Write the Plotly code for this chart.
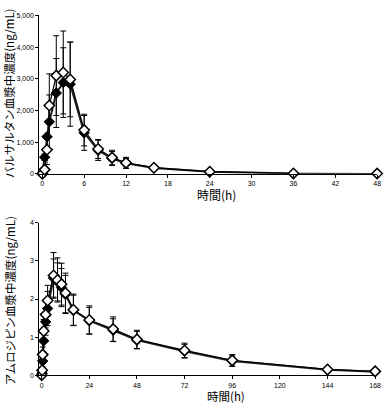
import plotly.graph_objects as go

# ---- Valsartan (top) ----
val_time_open = [0, 0.33, 0.67, 1, 2, 3, 4, 6, 8, 10, 12, 16, 24, 36, 48]
val_mean_open = [0, 130, 757, 2155, 3100, 3200, 2980, 1380, 780, 510, 345, 190, 65, 10, 5]
val_sd_open = [0, 60, 470, 1000, 1260, 1310, 1180, 500, 300, 230, 170, 60, 20, 5, 3]

val_time_filled = [0, 0.33, 0.67, 1, 2, 3, 4, 6, 8, 10, 12, 16, 24, 36]
val_mean_filled = [0, 520, 1170, 1640, 2550, 2880, 2830, 1290, 740, 480, 330, 180, 60, 10]
val_sd_filled = [0, 100, 60, 850, 1090, 1100, 1330, 550, 320, 220, 160, 50, 20, 5]

val_xticks = [0, 6, 12, 18, 24, 30, 36, 42, 48]
val_yticks = [0, 1000, 2000, 3000, 4000, 5000]

# ---- Amlodipine (bottom) ----
aml_time = [0, 0.25, 0.5, 1, 2, 3, 6, 8, 10, 12, 16, 24, 36, 48, 72, 96, 144, 168]
aml_mean_open = [0, 0.13, 0.54, 1.16, 1.59, 1.96, 2.62, 2.50, 2.39, 2.16, 1.72, 1.45, 1.21, 0.94, 0.65, 0.39, 0.15, 0.10]
aml_sd_open = [0, 0.05, 0.2, 0.3, 0.35, 0.4, 0.6, 0.58, 0.55, 0.52, 0.41, 0.37, 0.32, 0.24, 0.19, 0.15, 0.05, 0.03]
aml_mean_filled = [0, 0.05, 0.37, 0.90, 1.40, 1.75, 2.55, 2.45, 2.30, 2.12, 1.70, 1.43, 1.18, 0.92, 0.63, 0.37, 0.14, 0.09]
aml_sd_filled = [0, 0.03, 0.15, 0.3, 0.35, 0.45, 0.5, 0.5, 0.5, 0.5, 0.4, 0.35, 0.3, 0.23, 0.18, 0.14, 0.05, 0.03]

aml_xticks = [0, 24, 48, 72, 96, 120, 144, 168]
aml_yticks = [0, 1, 2, 3, 4]

W, H = 392, 405

def eb(sd):
    return dict(type="data", array=sd, color="black", thickness=1, width=3)

filled_marker = dict(symbol="diamond", size=8, color="black", line=dict(color="black", width=1))
open_marker = dict(symbol="diamond", size=8, color="white", line=dict(color="black", width=1.5))

fig = go.Figure()
fig.add_trace(go.Scatter(x=val_time_filled, y=val_mean_filled, error_y=eb(val_sd_filled),
                         mode="lines+markers", line=dict(color="#222", width=2),
                         marker=filled_marker, xaxis="x", yaxis="y", cliponaxis=False))
fig.add_trace(go.Scatter(x=val_time_open, y=val_mean_open, error_y=eb(val_sd_open),
                         mode="lines+markers", line=dict(color="black", width=1.2),
                         marker=open_marker, xaxis="x", yaxis="y", cliponaxis=False))
fig.add_trace(go.Scatter(x=aml_time, y=aml_mean_filled, error_y=eb(aml_sd_filled),
                         mode="lines+markers", line=dict(color="#222", width=2),
                         marker=filled_marker, xaxis="x2", yaxis="y2", cliponaxis=False))
fig.add_trace(go.Scatter(x=aml_time, y=aml_mean_open, error_y=eb(aml_sd_open),
                         mode="lines+markers", line=dict(color="black", width=1.2),
                         marker=open_marker, xaxis="x2", yaxis="y2", cliponaxis=False))

tickfont = dict(family="Liberation Sans", size=7, color="black")
common = dict(showline=True, linecolor="black", linewidth=1, ticks="outside", ticklen=3,
              tickcolor="black", tickwidth=1, showgrid=False, zeroline=False, tickfont=tickfont)

fig.update_layout(
    width=W, height=H, margin=dict(l=0, r=0, t=0, b=0),
    paper_bgcolor="white", plot_bgcolor="white", showlegend=False,
    xaxis=dict(domain=[40 / W, 383 / W], range=[-0.42, 48], tickvals=val_xticks, anchor="y", **common),
    yaxis=dict(domain=[(H - 172.7) / H, (H - 11.7) / H], range=[0, 5000], tickvals=val_yticks,
               tickformat=",", anchor="x", **common),
    xaxis2=dict(domain=[40 / W, 381 / W], range=[-1.14, 168], tickvals=aml_xticks, anchor="y2", **common),
    yaxis2=dict(domain=[(H - 377.7) / H, (H - 222.7) / H], range=[0, 4], tickvals=aml_yticks,
                anchor="x2", **common),
)

tfont = dict(family="Noto Sans CJK JP", size=12, color="black")
bfont = dict(family="Noto Sans CJK JP", size=11.5, color="black")
yfont = dict(family="Noto Sans CJK JP", size=11.5, color="black")
ann = [
    dict(text="時間(h)", x=220 / W, y=(H - 194) / H, font=tfont),
    dict(text="時間(h)", x=230 / W, y=(H - 398.4) / H, font=bfont),
    dict(text="バルサルタン血漿中濃度(ng/mL)", x=10 / W, y=(H - 91) / H, textangle=-90, font=yfont),
    dict(text="アムロジピン血漿中濃度(ng/mL)", x=10 / W, y=(H - 301.5) / H, textangle=-90, font=yfont),
]
for a in ann:
    fig.add_annotation(xref="paper", yref="paper", showarrow=False, xanchor="center",
                       yanchor="middle", **a)

fig.write_html("out.html", config={"displayModeBar": False, "staticPlot": True})

# remove default page margins so the figure sits at the window's top-left corner
with open("out.html", encoding="utf-8") as f:
    html = f.read()
html = html.replace("<head>", "<head><style>html,body{margin:0;padding:0;overflow:hidden;}</style>", 1)
with open("out.html", "w", encoding="utf-8") as f:
    f.write(html)
